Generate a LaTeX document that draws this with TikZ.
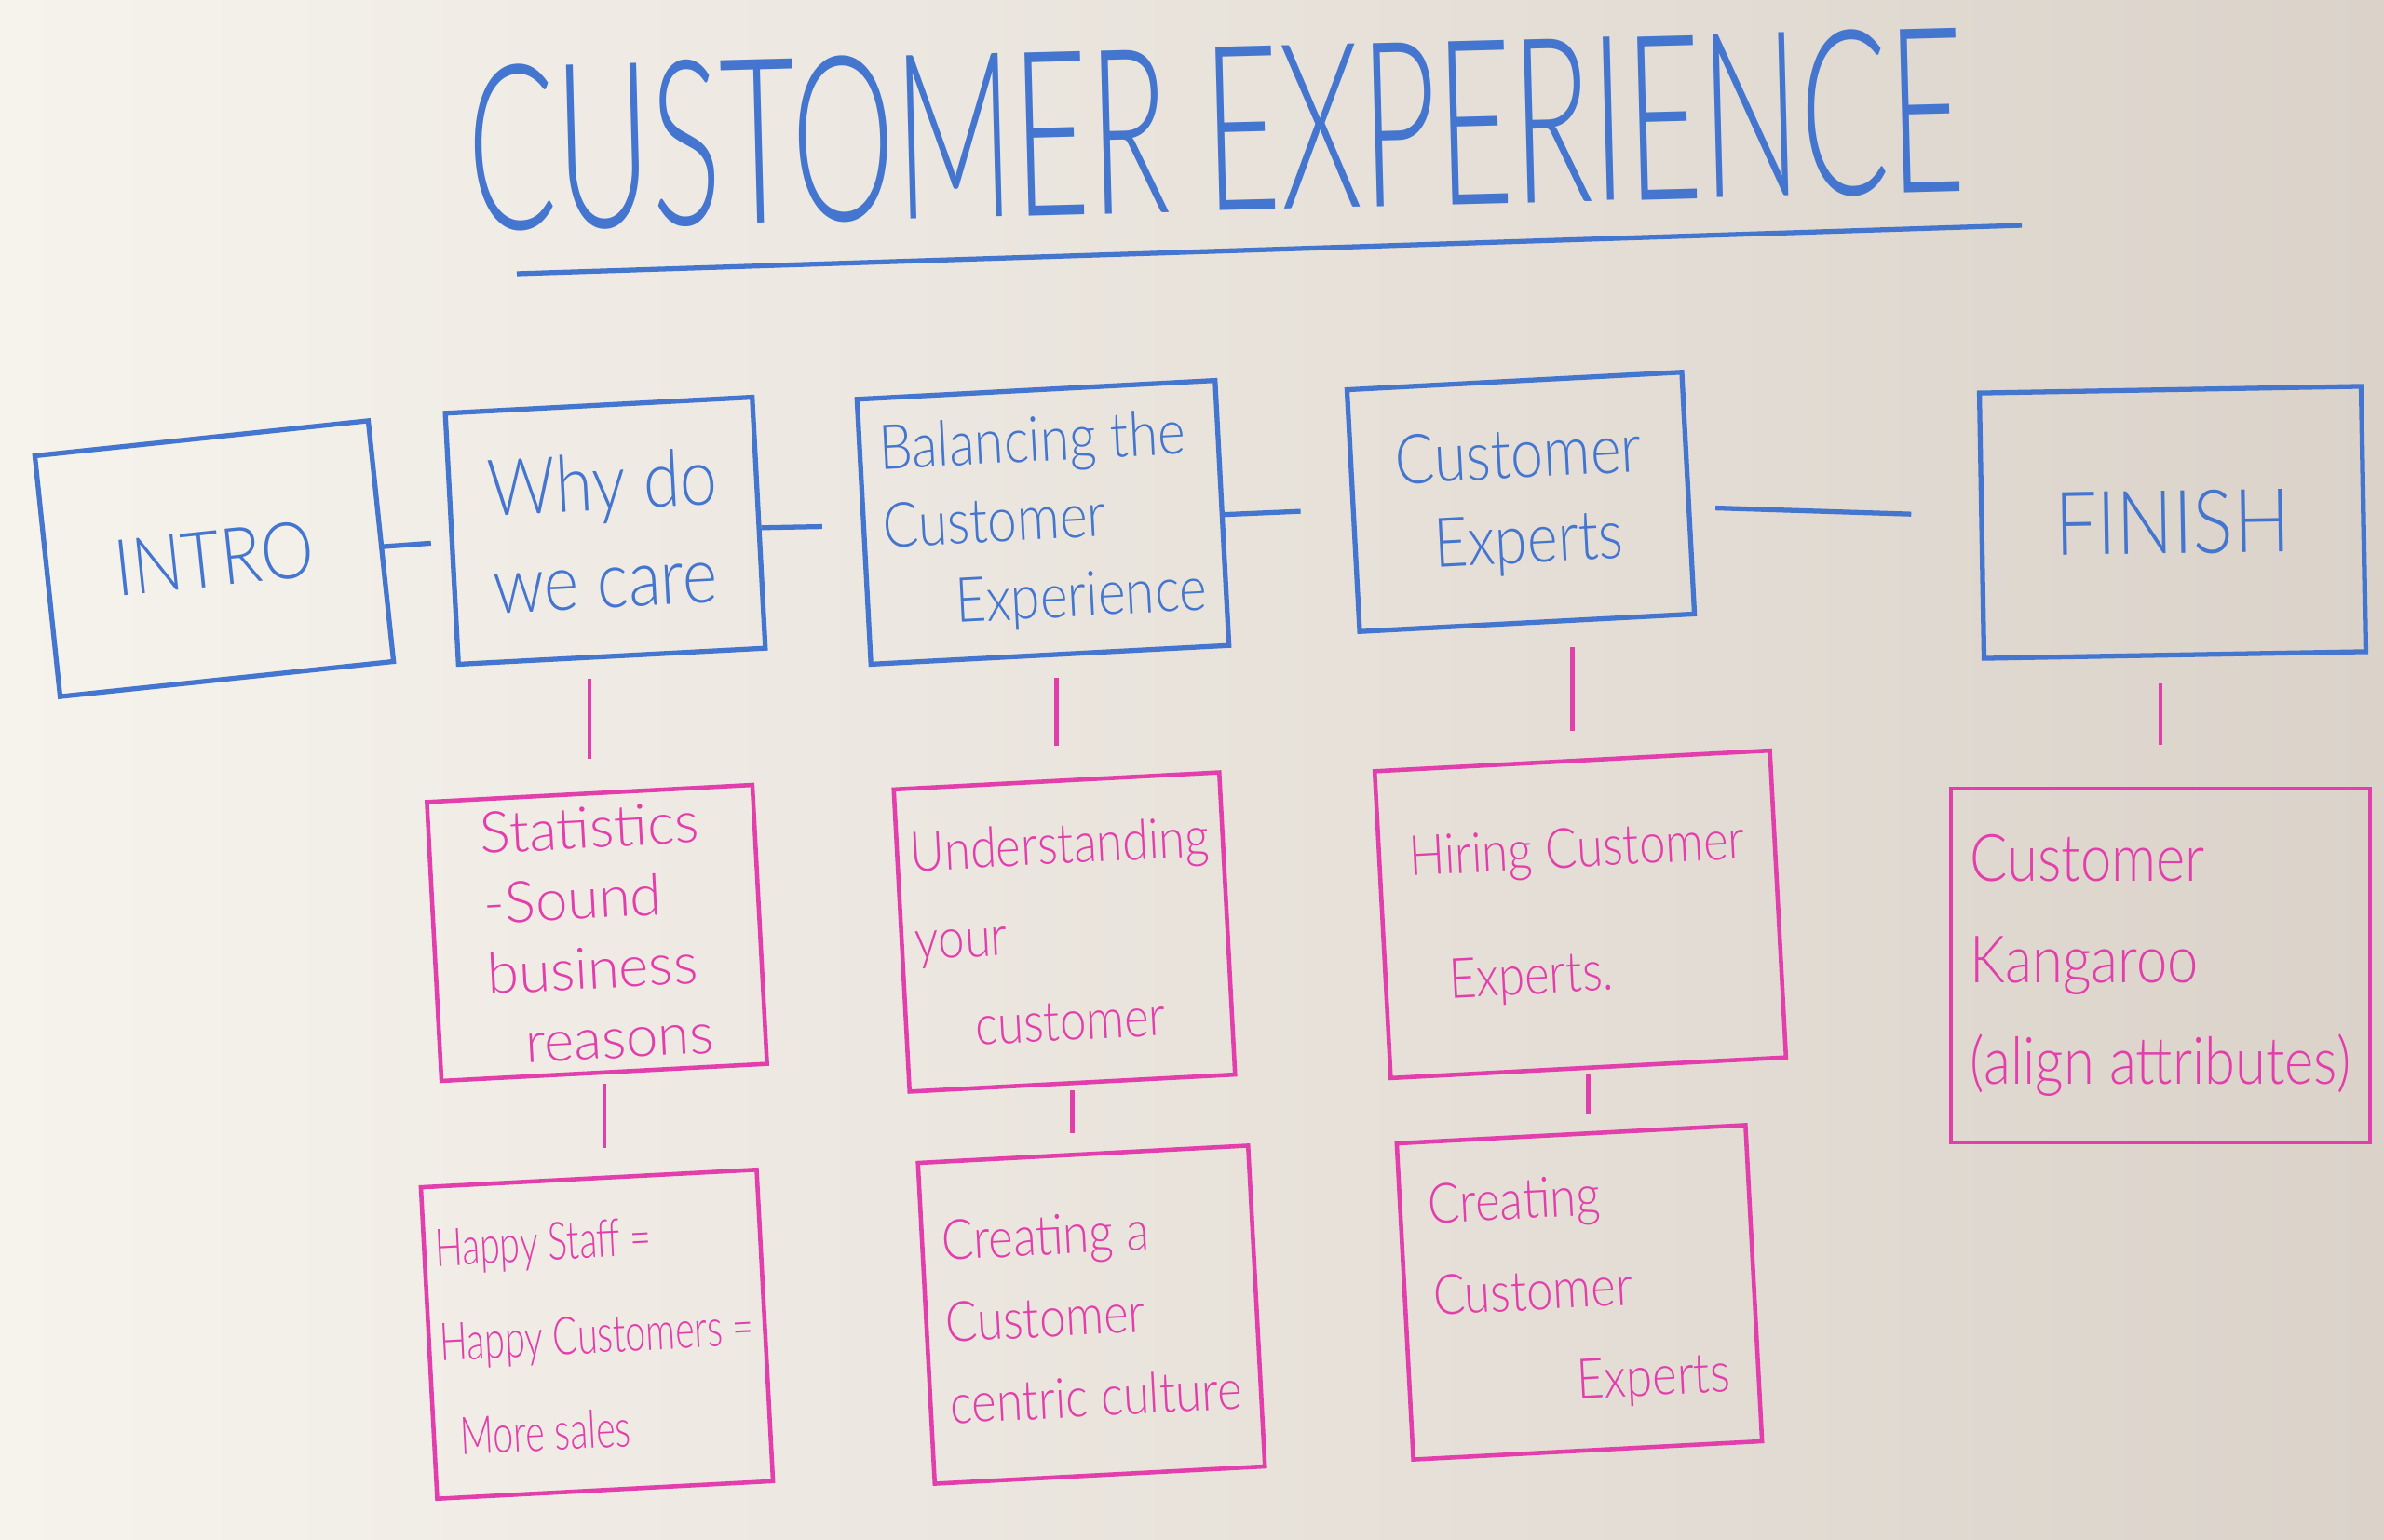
\documentclass[tikz,border=0pt]{standalone}
\usepackage{fontspec}
\setmainfont{Lato Light}[FakeStretch=0.85]
\newfontfamily\narrowhand{Lato Light}[FakeStretch=0.7]
\newfontfamily\widehand{Lato Light}
\usepackage{tikz}
\definecolor{markerblue}{RGB}{68,118,208}
\definecolor{markerpink}{RGB}{226,62,172}
\definecolor{boardlight}{RGB}{246,243,237}
\definecolor{boarddark}{RGB}{219,211,202}
\tikzstyle{topic}=[rectangle,
                   draw=markerblue,
                   line width=1.5pt,
                   text=markerblue,
                   rotate=3,
                   align=left,
                   minimum width=3.5cm,
                   minimum height=2.7cm,
                   font=\fontsize{24}{30}\selectfont]
\tikzstyle{subtopic}=[rectangle,
                      draw=markerpink,
                      line width=1.3pt,
                      text=markerpink,
                      rotate=3,
                      align=left,
                      minimum width=3.5cm,
                      minimum height=3.2cm,
                      font=\fontsize{17}{27}\selectfont]
\tikzstyle{blueline}=[draw=markerblue,line width=1.5pt]
\tikzstyle{pinkline}=[draw=markerpink,line width=1.3pt]

\begin{document}
\begin{tikzpicture}
\shade[left color=boardlight,right color=boarddark] (0,0) rectangle (25.6,-16.54);
\useasboundingbox (0,0) rectangle (25.6,-16.54);
% heading
\node (title) [text=markerblue,rotate=1.5] at (13.06,-1.39) {\scalebox{1}[1.5]{\fontsize{47}{47}\selectfont CUSTOMER EXPERIENCE}};
\coordinate (ul_1) at (5.55,-2.94);
\coordinate (ul_2) at (21.71,-2.42);
\draw[blueline] (ul_1) -- (ul_2);
% top row
\node (T_1) [topic,rotate=3,minimum width=3.6cm,minimum height=2.6cm] at (2.30,-6.00) {INTRO};
\node (T_2) [topic,minimum width=3.3cm] at (6.50,-5.70) {Why do\\we care};
\node (T_3) [topic,minimum width=3.85cm,minimum height=2.85cm,font=\fontsize{19}{24}\selectfont] at (11.20,-5.61) {Balancing the\\Customer\\\hspace{1.1em}Experience};
\node (T_4) [topic,minimum width=3.6cm,minimum height=2.6cm,font=\fontsize{21}{26}\selectfont] at (16.33,-5.39) {Customer\\\hspace{0.5em}Experts};
\node (T_5) [topic,rotate=-2,minimum width=4.1cm,minimum height=2.85cm,font=\fontsize{27}{30}\selectfont] at (23.33,-5.61) {FINISH};
% second and third rows
\node (S_1) [subtopic,minimum height=3.0cm,inner sep=2pt,font=\widehand\fontsize{17.5}{21.5}\selectfont] at (6.41,-10.02) {Statistics\\-Sound\\business\\\hspace{0.6em}reasons};
\node (S_2) [subtopic,minimum width=3.6cm,minimum height=3.35cm,font=\narrowhand\fontsize{16}{29}\selectfont] at (6.41,-14.33) {Happy Staff =\\Happy Customers =\\\hspace{0.3em}More sales};
\node (S_3) [subtopic,minimum height=3.25cm] at (11.43,-10.01) {Understanding\\your\\\hspace{1em}customer};
\node (S_4) [subtopic,minimum width=3.55cm,minimum height=3.45cm,font=\fontsize{17}{25}\selectfont] at (11.72,-14.12) {Creating a\\Customer\\centric culture};
\node (S_5) [subtopic,minimum width=4.25cm,minimum height=3.3cm,font=\fontsize{17}{38}\selectfont] at (16.97,-9.82) {Hiring Customer\\\hspace{0.6em}Experts.};
\node (S_6) [subtopic,minimum width=3.75cm,minimum height=3.4cm,font=\fontsize{17}{28}\selectfont] at (16.96,-13.88) {Creating\\Customer\\\hspace{2.5em}Experts};
\node (S_7) [subtopic,rotate=-3,minimum width=4.5cm,minimum height=3.8cm,font=\fontsize{20}{31}\selectfont] at (23.20,-10.37) {Customer\\Kangaroo\\(align attributes)};
% links along the top
\path[blueline] (T_1) edge[shorten <=-0.05cm,shorten >=0.2cm] (T_2);
\path[blueline] (T_2) edge[shorten >=0.42cm] (T_3);
\path[blueline] (T_3) edge[shorten >=0.54cm] (T_4);
\path[blueline] (T_4) edge[shorten <=0.26cm,shorten >=0.73cm] (T_5);
% links down
\path[pinkline] (S_1.north) edge[shorten <=0.35cm,shorten >=0.22cm] (S_1.north |- T_2.south);
\path[pinkline] (S_3.north) edge[shorten <=0.35cm,shorten >=0.22cm] (S_3.north |- T_3.south);
\path[pinkline] (S_5.north) edge[shorten <=0.3cm,shorten >=0.24cm] (S_5.north |- T_4.south);
\path[pinkline] (S_7.north) edge[shorten <=0.45cm,shorten >=0.28cm] (S_7.north |- T_5.south);
\path[pinkline] (S_1.south) edge[shorten <=0.1cm,shorten >=0.3cm] (S_1.south |- S_2.north);
\path[pinkline] (S_3.south) edge[shorten <=0.05cm,shorten >=0.2cm] (S_3.south |- S_4.north);
\path[pinkline] (S_5.south) edge[shorten <=0.05cm,shorten >=0.2cm] (S_5.south |- S_6.north);
\end{tikzpicture}
\end{document}
